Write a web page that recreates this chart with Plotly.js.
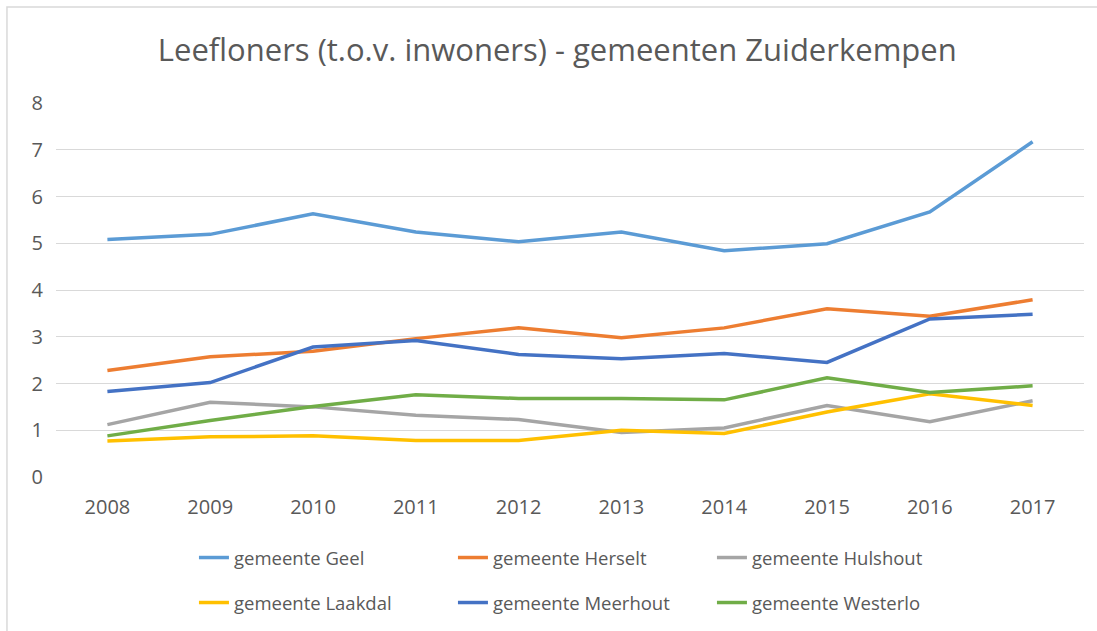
<!DOCTYPE html>
<html>
<head>
<meta charset="utf-8">
<script src="https://cdn.plot.ly/plotly-3.0.1.min.js"></script>
<style>html,body{margin:0;padding:0;background:#fff;}#chart{width:1097px;height:631px;}</style>
</head>
<body>
<div id="chart"></div>
<script>
const years = ["2008","2009","2010","2011","2012","2013","2014","2015","2016","2017"];
const geel     = [5.08, 5.19, 5.63, 5.24, 5.03, 5.24, 4.84, 4.99, 5.67, 7.17];
const herselt  = [2.28, 2.57, 2.69, 2.96, 3.19, 2.98, 3.19, 3.60, 3.44, 3.79];
const hulshout = [1.12, 1.60, 1.50, 1.32, 1.23, 0.95, 1.05, 1.53, 1.18, 1.63];
const laakdal  = [0.77, 0.86, 0.88, 0.78, 0.78, 1.00, 0.93, 1.39, 1.78, 1.53];
const meerhout = [1.83, 2.02, 2.78, 2.92, 2.62, 2.53, 2.64, 2.45, 3.38, 3.48];
const westerlo = [0.88, 1.21, 1.51, 1.76, 1.68, 1.68, 1.65, 2.12, 1.81, 1.95];

const names  = ["gemeente Geel","gemeente Herselt","gemeente Hulshout","gemeente Laakdal","gemeente Meerhout","gemeente Westerlo"];
const series = [geel, herselt, hulshout, laakdal, meerhout, westerlo];
const colors = ["#5B9BD5","#ED7D31","#A5A5A5","#FFC000","#4472C4","#70AD47"];

const data = series.map((v, i) => ({
  x: years, y: v, name: names[i], type: "scatter", mode: "lines",
  line: {color: colors[i], width: 3.5},
  legend: i < 3 ? "legend" : "legend2"
}));

const font = "'Open Sans', 'Liberation Sans', sans-serif";
const legendBase = {orientation: "h", xref: "container", yref: "container",
  x: 0.1768, xanchor: "left", yanchor: "middle",
  entrywidth: 214, entrywidthmode: "pixels", itemwidth: 30,
  font: {family: font, size: 18.5, color: "#595959"}, bgcolor: "rgba(0,0,0,0)"};

const layout = {
  width: 1097, height: 631,
  paper_bgcolor: "#ffffff", plot_bgcolor: "#ffffff",
  margin: {l: 56, r: 13, t: 103, b: 154, autoexpand: false},
  font: {family: font, color: "#595959", size: 20},
  title: {text: "Leefloners (t.o.v. inwoners) - gemeenten Zuiderkempen",
          font: {family: font, size: 31, color: "#595959"},
          x: 0.508, xanchor: "center", y: 0.921, yanchor: "middle", yref: "container"},
  xaxis: {type: "category", range: [-0.5, 9.5], showgrid: false, zeroline: false,
          showline: false, ticks: "", tickfont: {size: 20, color: "#595959"}, ticklabelstandoff: 16},
  yaxis: {range: [0, 8], dtick: 1, showgrid: true, gridcolor: "#d9d9d9", gridwidth: 1,
          zeroline: false, showline: false, ticks: "", tickfont: {size: 20, color: "#595959"},
          ticklabelstandoff: 12},
  showlegend: true,
  legend: Object.assign({}, legendBase, {y: 1 - 558/631}),
  legend2: Object.assign({}, legendBase, {y: 1 - 603/631}),
  shapes: [{type: "rect", xref: "paper", yref: "paper",
            x0: -0.0477, x1: 1.2, y0: -0.6, y1: 1.2567,
            line: {color: "#d9d9d9", width: 1.5}, fillcolor: "rgba(0,0,0,0)", layer: "below"}]
};

Plotly.newPlot("chart", data, layout, {displayModeBar: false, staticPlot: true});
</script>
</body>
</html>
